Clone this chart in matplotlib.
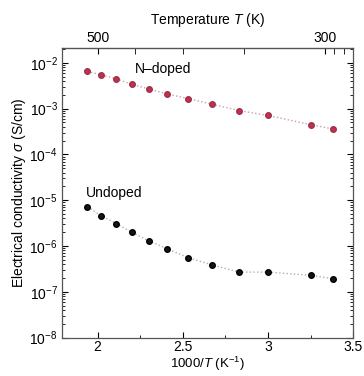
import numpy as np
import matplotlib
matplotlib.use("Agg")
import matplotlib.pyplot as plt
from matplotlib.ticker import LogLocator, FixedLocator, NullFormatter, FixedFormatter

plt.rcParams['font.family'] = ['Liberation Sans', 'DejaVu Sans']
plt.rcParams['mathtext.fontset'] = 'custom'
plt.rcParams['mathtext.rm'] = 'Liberation Sans'
plt.rcParams['mathtext.it'] = 'Liberation Sans:italic'

# Data (x = 1000/T in K^-1, sigma in S/cm)
inv_T = [1.94, 2.02, 2.11, 2.20, 2.30, 2.41, 2.53, 2.67, 2.83, 3.00, 3.25, 3.38]
sigma_ndoped = [6.5e-3, 5.5e-3, 4.5e-3, 3.4e-3, 2.7e-3, 2.1e-3, 1.66e-3, 1.26e-3,
                9.1e-4, 7.1e-4, 4.5e-4, 3.6e-4]
sigma_undoped = [7.2e-6, 4.6e-6, 3.1e-6, 2.0e-6, 1.3e-6, 8.7e-7, 5.6e-7, 3.9e-7,
                 2.7e-7, 2.7e-7, 2.3e-7, 1.95e-7]
x_ticks = [2, 2.5, 3, 3.5]
x_tick_labels = ['2', '2.5', '3', '3.5']
y_exponents = [-8, -7, -6, -5, -4, -3, -2]
top_major_T = [500, 300]
top_minor_T = [450, 400, 350, 295, 290]

fig = plt.figure(figsize=(3.64, 3.76), dpi=100)
ax = fig.add_axes([0.170, 0.102, 0.800, 0.770])

ax.plot(inv_T, sigma_ndoped, linestyle=':', color='#c8a0a8', linewidth=1.0, zorder=1)
ax.plot(inv_T, sigma_undoped, linestyle=':', color='#b0b0b0', linewidth=1.0, zorder=1)
ax.plot(inv_T, sigma_ndoped, 'o', color='#c03050', markeredgecolor='#a03048',
        markersize=4.0, linestyle='none', zorder=2)
ax.plot(inv_T, sigma_undoped, 'o', color='#151515', markeredgecolor='#000000',
        markersize=4.0, linestyle='none', zorder=2)

ax.set_yscale('log')
ax.set_xlim(1.79, 3.5)
ax.set_ylim(1e-8, 2.1e-2)
ax.set_yticks([10.0 ** e for e in y_exponents])
ax.set_yticklabels([r'$10^{%d}$' % e for e in y_exponents])
ax.yaxis.set_minor_locator(LogLocator(base=10, subs=np.arange(2, 10), numticks=20))
ax.yaxis.set_minor_formatter(NullFormatter())
ax.set_xticks(x_ticks)
ax.set_xticklabels(x_tick_labels)
ax.xaxis.set_minor_locator(FixedLocator([2.25, 2.75, 3.25]))

ax.tick_params(which='both', direction='in', right=True, labelsize=10)
ax.tick_params(which='major', length=4)
ax.tick_params(which='minor', length=2)
ax.tick_params(axis='x', which='both', top=False, pad=2)
ax.tick_params(axis='y', pad=3)

ax.set_xlabel(r'1000/$\mathit{T}$ (K$^{-1}$)', fontsize=9.5, labelpad=0)
ax.set_ylabel(r'Electrical conductivity $\mathit{\sigma}$ (S/cm)', fontsize=10, labelpad=1)

ax.text(2.22, 7.4e-3, 'N–doped', fontsize=10, va='center', ha='left')
ax.text(1.93, 1.45e-5, 'Undoped', fontsize=10, va='center', ha='left')

sec = ax.secondary_xaxis('top', functions=(lambda x: 1000 / x, lambda t: 1000 / t))
sec.xaxis.set_major_locator(FixedLocator(top_major_T))
sec.xaxis.set_major_formatter(FixedFormatter([str(t) for t in top_major_T]))
sec.xaxis.set_minor_locator(FixedLocator(top_minor_T))
sec.xaxis.set_minor_formatter(NullFormatter())
sec.tick_params(which='both', direction='in', labelsize=10, pad=2)
sec.tick_params(which='major', length=4)
sec.tick_params(which='minor', length=4)
sec.set_xlabel(r'Temperature $\mathit{T}$ (K)', fontsize=10, labelpad=5)

for s in ax.spines.values():
    s.set_color('#555555')
    s.set_linewidth(0.9)

fig.savefig('out.png', dpi=100)
